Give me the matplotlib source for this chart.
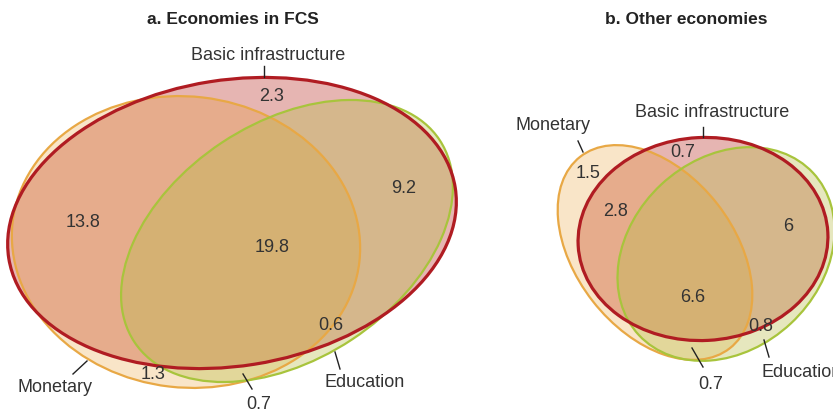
import matplotlib
matplotlib.use("Agg")
import matplotlib.pyplot as plt
from matplotlib.patches import Ellipse

# Share of economies (percent) in each region of the diagram
set_names = ["Monetary", "Basic infrastructure", "Education"]
fcs_region_values = [13.8, 2.3, 9.2, 19.8, 0.6, 1.3, 0.7]
other_region_values = [1.5, 0.7, 2.8, 6, 6.6, 0.8, 0.7]
panel_titles = ["a. Economies in FCS", "b. Other economies"]

FONT = ["Liberation Sans", "DejaVu Sans"]
TEXT = "#333333"
EDGE = {"Monetary": "#e8a845", "Basic infrastructure": "#b01c22", "Education": "#a8c43c"}
FILL = {"Monetary": ("#e88d05", 0.22), "Basic infrastructure": ("#b41a10", 0.32),
        "Education": ("#b8bd45", 0.35)}
LW = {"Monetary": 1.6, "Basic infrastructure": 2.3, "Education": 1.6}

# ellipse geometry in pixels: (cx, cy, width, height, angle), y down
fcs_shapes = {
    "Basic infrastructure": (232, 224, 452, 286, -9),
    "Monetary": (186, 243, 349, 291, 6.6),
    "Education": (287, 242, 366, 236, -33.5),
}
other_shapes = {
    "Basic infrastructure": (703, 240, 250, 203, -3),
    "Monetary": (655, 253.5, 243, 158, 52),
    "Education": (726, 255, 238, 190, -43),
}

fcs_value_pos = [(83, 223), (272, 97), (404, 189), (272, 248), (331, 326), (153, 375), (259, 405)]
other_value_pos = [(588, 174), (683, 153), (616, 212), (788, 227), (693, 298), (761, 327), (711, 385)]

fcs_name_pos = {"Monetary": (55, 388, "center"), "Basic infrastructure": (268, 55, "center"),
                "Education": (365, 383, "center")}
other_name_pos = {"Monetary": (553, 126, "center"), "Basic infrastructure": (712, 113, "center"),
                  "Education": (762, 373, "left")}

fcs_leaders = [((264, 67), (264, 78)), ((87, 362), (73, 375)),
               ((243, 375), (252, 390)), ((335, 353), (340, 370))]
other_leaders = [((703, 128), (703, 138)), ((578, 142), (583, 153)),
                 ((692, 349), (703, 368)), ((764, 341), (769, 358))]

fig = plt.figure(figsize=(8.33, 4.14), dpi=100)
ax = fig.add_axes([0, 0, 1, 1])
ax.set_xlim(0, 833)
ax.set_ylim(414, 0)
ax.axis("off")


def draw_panel(shapes, values, value_pos, name_pos, leaders, title, title_x):
    fill_order = ["Basic infrastructure", "Monetary", "Education"]
    for name in fill_order:
        cx, cy, w, h, ang = shapes[name]
        color, alpha = FILL[name]
        ax.add_patch(Ellipse((cx, cy), w, h, angle=ang, facecolor=color,
                             alpha=alpha, edgecolor="none", zorder=1))
    for z, name in enumerate(["Monetary", "Education", "Basic infrastructure"]):
        cx, cy, w, h, ang = shapes[name]
        ax.add_patch(Ellipse((cx, cy), w, h, angle=ang, facecolor="none",
                             edgecolor=EDGE[name], linewidth=LW[name], zorder=2 + z))
    for v, (x, y) in zip(values, value_pos):
        ax.text(x, y, f"{v:g}", ha="center", va="center", fontsize=13,
                family=FONT, color=TEXT, zorder=10)
    for name in set_names:
        x, y, ha = name_pos[name]
        ax.text(x, y, name, ha=ha, va="center", fontsize=13, family=FONT,
                color=TEXT, zorder=10)
    for (x0, y0), (x1, y1) in leaders:
        ax.plot([x0, x1], [y0, y1], color="#222222", linewidth=1.0, zorder=10)
    ax.text(title_x, 20, title, ha="center", va="center", fontsize=12.5,
            fontweight="bold", family=FONT, color="#222222")


draw_panel(fcs_shapes, fcs_region_values, fcs_value_pos, fcs_name_pos,
           fcs_leaders, panel_titles[0], 233)
draw_panel(other_shapes, other_region_values, other_value_pos, other_name_pos,
           other_leaders, panel_titles[1], 686)

fig.savefig("out.png", dpi=100)
